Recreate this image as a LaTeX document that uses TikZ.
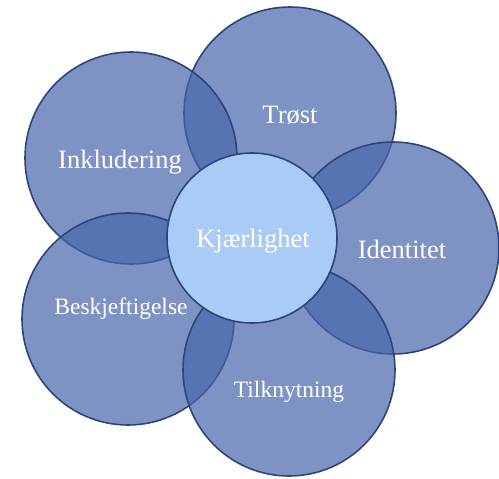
\documentclass[tikz,border=0pt]{standalone}
\usepackage{fontspec}
\setmainfont{Liberation Serif}
\definecolor{petalblue}{RGB}{71,101,170}
\definecolor{petaledge}{RGB}{44,70,124}
\definecolor{heartblue}{RGB}{171,203,247}
\tikzset{
  petal/.style={circle,minimum size=212pt,inner sep=0pt,fill=petalblue,fill opacity=0.7,draw=petaledge,line width=1.6pt},
  heart/.style={circle,minimum size=170pt,inner sep=0pt,fill=heartblue,draw=petaledge,line width=1.6pt},
  bigword/.style={text=white,anchor=base,font=\fontsize{26.5}{30}\selectfont},
  smallword/.style={text=white,anchor=base,font=\fontsize{23.5}{27}\selectfont}
}

\begin{document}
\begin{tikzpicture}[x=1pt,y=-1pt]
\useasboundingbox (0,0) rectangle (499,479);
\node[petal] (trost) at (290,113) {}; \node[petal] (inkl) at (131,158) {};
\node[petal] (ident) at (393,248) {}; \node[petal] (besk) at (128,319) {};
\node[petal] (tilk) at (289,370) {};
\node[heart] (kjaer) at (252,238) {};
\node[bigword] (t1) at (290,123) {Trøst}; \node[bigword] (t2) at (120,168) {Inkludering};
\node[bigword] (t3) at (402,258) {Identitet}; \node[smallword] (t4) at (121,314) {Beskjeftigelse};
\node[smallword] (t5) at (289,397) {Tilknytning}; \node[bigword] (t6) at (253,247) {Kjærlighet};
\end{tikzpicture}
\end{document}
